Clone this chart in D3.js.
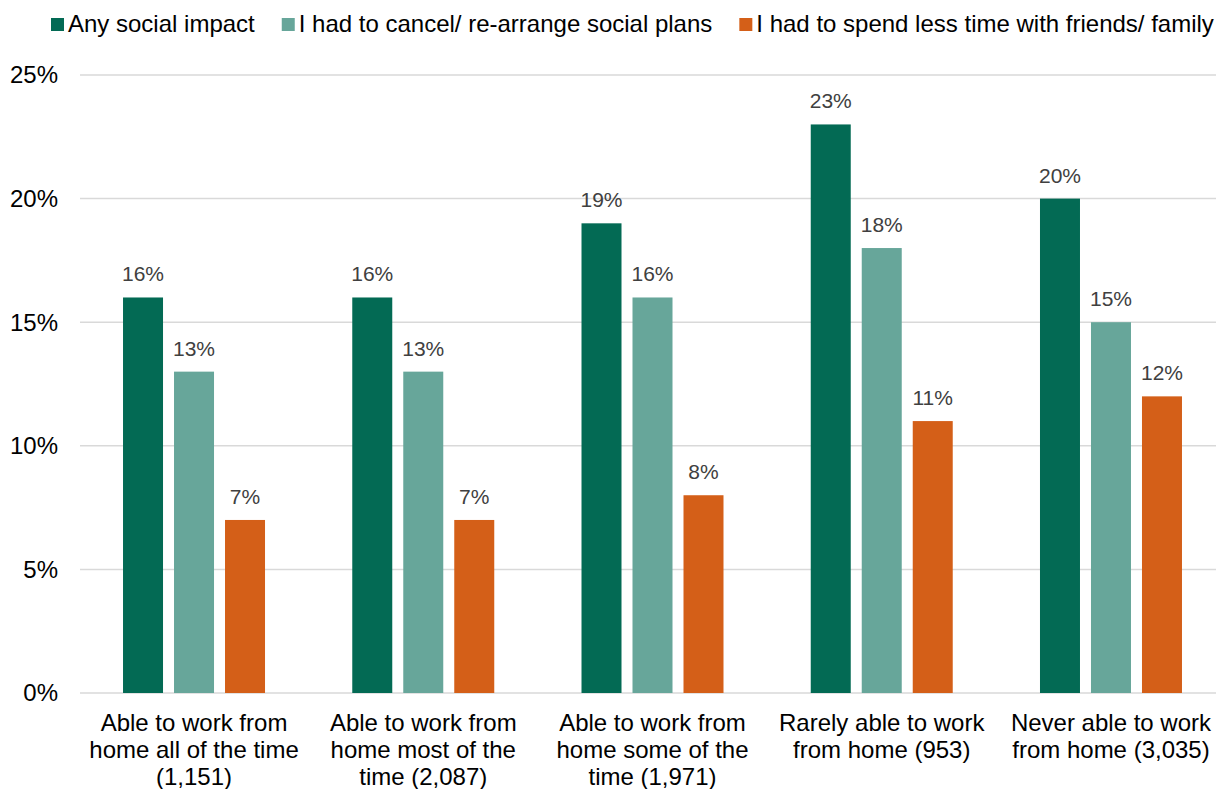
<!DOCTYPE html>
<html>
<head>
<meta charset="utf-8">
<script src="https://cdn.jsdelivr.net/npm/d3@7"></script>
<style>
  html, body { margin: 0; padding: 0; background: #fff; }
  svg { display: block; font-family: "Liberation Sans", Arial, sans-serif; }
</style>
</head>
<body>
<svg id="chart" width="1216" height="789"></svg>
<script>
const categories = [
  ["Able to work from", "home all of the time", "(1,151)"],
  ["Able to work from", "home most of the", "time (2,087)"],
  ["Able to work from", "home some of the", "time (1,971)"],
  ["Rarely able to work", "from home (953)"],
  ["Never able to work", "from home (3,035)"]
];
const seriesNames = [
  "Any social impact",
  "I had to cancel/ re-arrange social plans",
  "I had to spend less time with friends/ family"
];
const anySocialImpact = [16, 16, 19, 23, 20];
const cancelPlans = [13, 13, 16, 18, 15];
const lessTime = [7, 7, 8, 11, 12];
const yTicks = [0, 5, 10, 15, 20, 25];
const colors = ["#036A54", "#67A69A", "#D45F18"];

(function () {
const seriesValues = [anySocialImpact, cancelPlans, lessTime];

const svg = d3.select("#chart");
const mLeft = 79.4, mRight = 1225.6, gridRight = 1216, mTop = 75, mBottom = 693;

const x0 = d3.scaleBand()
  .domain(d3.range(categories.length))
  .range([mLeft, mRight])
  .paddingInner(0.3806)
  .paddingOuter(0.1903);

const x1 = d3.scaleBand()
  .domain(d3.range(seriesNames.length))
  .range([0, x0.bandwidth()])
  .paddingInner(0.2157)
  .paddingOuter(0);

const y = d3.scaleLinear().domain([0, 25]).range([mBottom, mTop]);

// gridlines
svg.append("g")
  .selectAll("line")
  .data(yTicks)
  .join("line")
  .attr("x1", 80).attr("x2", gridRight)
  .attr("y1", d => y(d)).attr("y2", d => y(d))
  .attr("stroke", "#d9d9d9")
  .attr("stroke-width", 1.5);

// y axis tick labels
svg.append("g")
  .selectAll("text")
  .data(yTicks)
  .join("text")
  .attr("x", 58)
  .attr("y", d => y(d))
  .attr("dy", "0.35em")
  .attr("text-anchor", "end")
  .attr("font-size", 24)
  .attr("fill", "#000")
  .text(d => d + "%");

// bars
const groups = svg.append("g")
  .selectAll("g")
  .data(categories.map((c, i) => i))
  .join("g")
  .attr("transform", i => `translate(${x0(i)},0)`);

groups.selectAll("rect")
  .data(i => seriesValues.map((s, k) => ({k, v: s[i]})))
  .join("rect")
  .attr("x", d => x1(d.k))
  .attr("y", d => y(d.v))
  .attr("width", x1.bandwidth())
  .attr("height", d => y(0) - y(d.v))
  .attr("fill", d => colors[d.k]);

groups.selectAll("text.val")
  .data(i => seriesValues.map((s, k) => ({k, v: s[i]})))
  .join("text")
  .attr("class", "val")
  .attr("x", d => x1(d.k) + x1.bandwidth() / 2)
  .attr("y", d => y(d.v) - 16)
  .attr("text-anchor", "middle")
  .attr("font-size", 21)
  .attr("fill", "#404040")
  .text(d => d.v + "%");

// category labels
const catG = svg.append("g");
categories.forEach((lines, i) => {
  const t = catG.append("text")
    .attr("x", x0(i) + x0.bandwidth() / 2)
    .attr("y", 731)
    .attr("text-anchor", "middle")
    .attr("font-size", 24)
    .attr("fill", "#000");
  lines.forEach((ln, j) => {
    t.append("tspan")
      .attr("x", x0(i) + x0.bandwidth() / 2)
      .attr("y", 731 + j * 27)
      .text(ln);
  });
});

// legend
const legend = svg.append("g");
let lx = 51;
seriesNames.forEach((name, k) => {
  legend.append("rect")
    .attr("x", lx).attr("y", 18)
    .attr("width", 13).attr("height", 13)
    .attr("fill", colors[k]);
  const t = legend.append("text")
    .attr("x", lx + 17)
    .attr("y", 32)
    .attr("font-size", 24)
    .attr("fill", "#000")
    .text(name);
  lx = lx + 17 + t.node().getComputedTextLength() + 27;
});
})();
</script>
</body>
</html>
